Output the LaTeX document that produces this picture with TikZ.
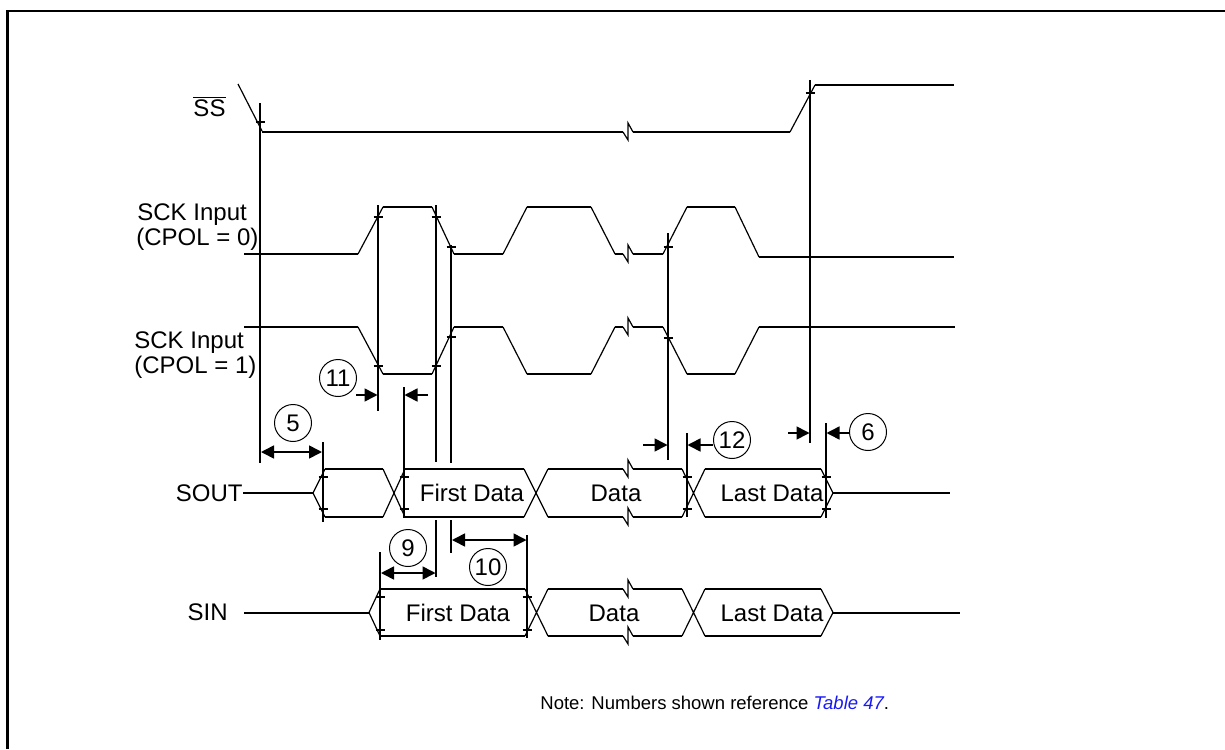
\documentclass[tikz,border=0pt]{standalone}
\usepackage{fontspec}
\setmainfont{Liberation Sans}
\usetikzlibrary{arrows.meta}
\definecolor{linkblue}{RGB}{25,25,245}
\begin{document}
\begin{tikzpicture}[x=0.5pt,y=-0.5pt,
  sig/.style={line width=1pt},
  slope/.style={line width=0.6pt},
  refline/.style={line width=1pt},
  tickmark/.style={line width=0.8pt},
  num/.style={circle, draw, line width=0.5pt, minimum size=18.5pt, inner sep=0pt, font=\fontsize{12}{14}\selectfont},
  lbl/.style={font=\fontsize{12}{14}\selectfont, inner sep=0pt},
  tip/.tip={Triangle[length=6.5pt,width=6.5pt]},
  dimone/.style={line width=0.8pt, -tip},
  dimtwo/.style={line width=0.8pt, tip-tip},
  brk/.style={insert path={-- ++(5,8) -- ++(0,-17) -- ++(5,9)}},
]
\useasboundingbox (0,0) rectangle (1225,749);
% frame
\draw[line width=1.1pt] (7.5,749) -- (7.5,11) -- (1225,11);

% ---------- labels
\node[lbl, anchor=base] (ss) at (209.5,117) {$\overline{\hbox{SS}}$};
\node[lbl, anchor=base west] (sck0a) at (137,220.6) {SCK Input};
\node[lbl, anchor=base west] (sck0b) at (136,245.6) {(CPOL = 0)};
\node[lbl, anchor=base west] (sck1a) at (134,348.6) {SCK Input};
\node[lbl, anchor=base west] (sck1b) at (134,373.6) {(CPOL = 1)};
\node[lbl, anchor=base east] (sout) at (243,501.6) {SOUT};
\node[lbl, anchor=base east] (sin) at (228,620.6) {SIN};

% ---------- SS waveform
\draw[slope] (238,84) -- (262,131);
\draw[sig] (262,132) -- (623,132);
\draw[slope] (623,132) [brk];
\draw[sig] (633,132) -- (790,132);
\draw[slope] (790,132) -- (815,85);
\draw[sig] (815,85) -- (954,85);

% ---------- SCK CPOL=0
\draw[slope] (358,254) -- (383,207) (432,207) -- (454,254) (503,254) -- (527,207)
  (591,207) -- (615,254) (623,254) [brk] (663,254) -- (687,207) (735,207) -- (759,257);
\draw[sig] (244,254) -- (358,254) (383,207) -- (432,207) (454,254) -- (503,254)
  (527,207) -- (591,207) (615,254) -- (623,254) (633,254) -- (663,254)
  (687,207) -- (735,207) (759,257) -- (954,257);

% ---------- SCK CPOL=1
\draw[slope] (358,327) -- (383,374) (432,374) -- (454,327) (503,327) -- (527,374)
  (591,374) -- (615,327) (623,327) [brk] (663,327) -- (687,374) (735,374) -- (759,327);
\draw[sig] (244,327) -- (358,327) (383,374) -- (432,374) (454,327) -- (503,327)
  (527,374) -- (591,374) (615,327) -- (623,327) (633,327) -- (663,327)
  (687,374) -- (735,374) (759,327) -- (955,327);

% ---------- SOUT bus
\draw[sig] (sout.east |- 0,493) -- (313,493);
\draw[slope] (325,469) -- (313,493) -- (325,517)
  (383,469) -- (405,517) (383,517) -- (405,469)
  (524,469) -- (548,517) (524,517) -- (548,469)
  (623,469) [brk] (623,517) [brk]
  (682,469) -- (705,517) (682,517) -- (705,469)
  (821,469) -- (833,493) -- (821,517);
\draw[sig] (325,469) -- (383,469) (325,517) -- (383,517)
  (405,469) -- (524,469) (405,517) -- (524,517)
  (548,469) -- (623,469) (548,517) -- (623,517)
  (633,469) -- (682,469) (633,517) -- (682,517)
  (705,469) -- (821,469) (705,517) -- (821,517);
\draw[sig] (833,493) -- (950,493);
\node[lbl, anchor=base] (so1) at (472,501.6) {First Data};
\node[lbl, anchor=base] (so2) at (616,501.6) {Data};
\node[lbl, anchor=base] (so3) at (772,501.6) {Last Data};

% ---------- SIN bus
\draw[sig] (244,612.5) -- (369,612.5);
\draw[slope] (380,589) -- (369,612.5) -- (380,636)
  (525,589) -- (548,636) (525,636) -- (548,589)
  (623,589) [brk] (623,636) [brk]
  (682,589) -- (705,636) (682,636) -- (705,589)
  (821,589) -- (833,612.5) -- (821,636);
\draw[sig] (380,589) -- (525,589) (380,636) -- (525,636)
  (548,589) -- (623,589) (548,636) -- (623,636)
  (633,589) -- (682,589) (633,636) -- (682,636)
  (705,589) -- (821,589) (705,636) -- (821,636);
\draw[sig] (833,612.5) -- (960,612.5);
\node[lbl, anchor=base] (si1) at (458,621) {First Data};
\node[lbl, anchor=base] (si2) at (614,621) {Data};
\node[lbl, anchor=base] (si3) at (772,621) {Last Data};

% ---------- reference lines
\coordinate (v1t) at (260,103);  \coordinate (v1b) at (260,463);
\coordinate (v2t) at (378,205);  \coordinate (v2b) at (378,411);
\coordinate (v3t) at (436,205);  \coordinate (v3b) at (436,462);
\coordinate (v4t) at (451,245);  \coordinate (v4b) at (451,463);
\coordinate (v5t) at (668,233);  \coordinate (v5b) at (668,460);
\coordinate (v6t) at (810,80);   \coordinate (v6b) at (810,443);
\coordinate (v7t) at (323,442);  \coordinate (v7b) at (323,522);
\coordinate (v8t) at (404,387);  \coordinate (v8b) at (404,518);
\coordinate (v9t) at (687,433);  \coordinate (v9b) at (687,517);
\coordinate (v10t) at (826,423); \coordinate (v10b) at (826,518);
\coordinate (v11t) at (380,552); \coordinate (v11b) at (380,640);
\coordinate (v12t) at (527,535); \coordinate (v12b) at (527,638);
\coordinate (v3c) at (436,520);  \coordinate (v3d) at (436,577);
\coordinate (v4c) at (451,520);  \coordinate (v4d) at (451,553);
\draw[refline] (v1t) -- (v1b) (v2t) -- (v2b) (v3t) -- (v3b) (v4t) -- (v4b)
  (v5t) -- (v5b) (v6t) -- (v6b) (v7t) -- (v7b) (v8t) -- (v8b) (v9t) -- (v9b)
  (v10t) -- (v10b) (v11t) -- (v11b) (v12t) -- (v12b) (v3c) -- (v3d) (v4c) -- (v4d);

% ---------- tick marks
\foreach \x/\y in {260/122, 810/93, 378/217, 436/217, 451/247, 668/247,
  378/366, 436/366, 451/337, 668/338, 323/477, 323/509, 404/477, 404/509,
  687/477, 687/509, 826/477, 826/509, 380/597, 380/630, 527/597, 527/630}
  \draw[tickmark] (\x-4.5,\y) -- (\x+4.5,\y);

% ---------- numbered markers
\node[num] (n11) at (338,378) {11};
\node[num] (n5) at (293,423) {5};
\node[num] (n9) at (408,548) {9};
\node[num] (n10) at (488,567) {10};
\node[num] (n12) at (732,440) {12};
\node[num] (n6) at (868,432) {6};

% ---------- dimension arrows
\draw[dimtwo] (261,452) -- (322,452);
\draw[dimone] (356,395) -- (377.5,395);
\draw[dimone] (428,395) -- (404.5,395);
\draw[dimtwo] (381,573) -- (435.5,573);
\draw[dimtwo] (452,540) -- (526.5,540);
\draw[dimone] (643,445) -- (667.5,445);
\draw[dimone] (n12.west |- 0,445) -- (687.5,445);
\draw[dimone] (788,433) -- (809.5,433);
\draw[dimone] (n6.west |- 0,433) -- (826.5,433);

% ---------- note
\node[anchor=west, inner sep=0pt, font=\fontsize{9.25}{11}\selectfont] (note) at (540,703)
  {Note: Numbers shown reference \textcolor{linkblue}{\itshape Table 47}.};
\end{tikzpicture}
\end{document}
